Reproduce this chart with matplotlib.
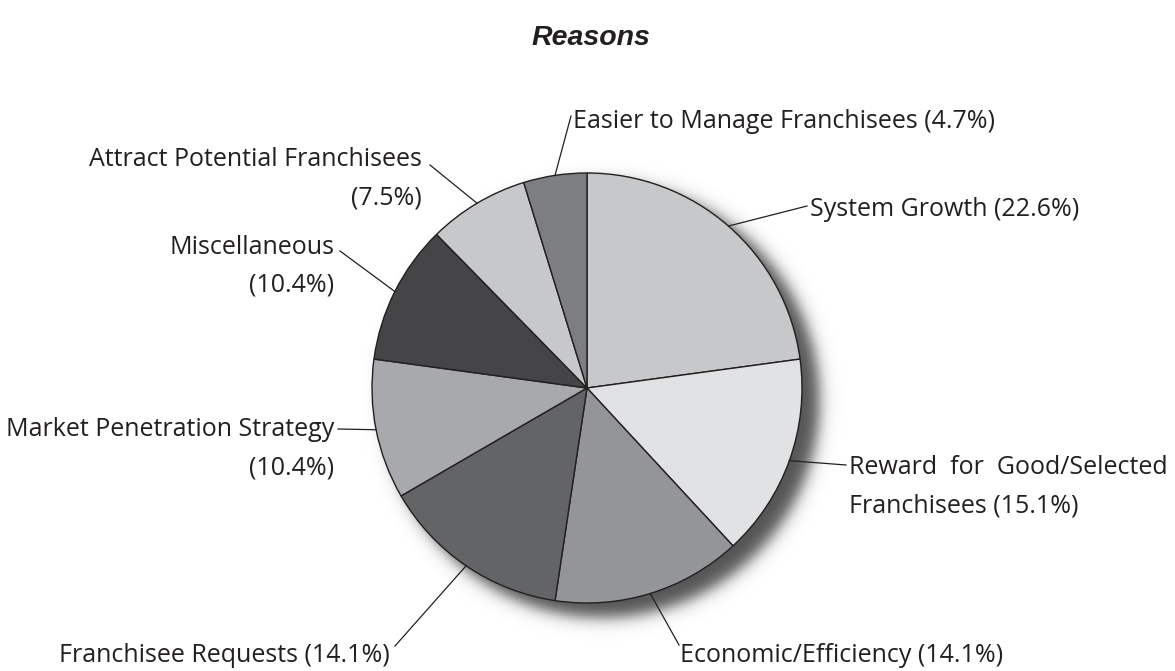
import numpy as np
import matplotlib.pyplot as plt

W, H = 1175, 671

labels = ["System Growth", "Reward  for  Good/Selected", "Economic/Efficiency",
          "Franchisee Requests", "Market Penetration Strategy", "Miscellaneous",
          "Attract Potential Franchisees", "Easier to Manage Franchisees"]
values = [22.6, 15.1, 14.1, 14.1, 10.4, 10.4, 7.5, 4.7]
colors = ["#c7c8ca", "#e1e2e3", "#939598", "#636466", "#a7a9ac", "#454547", "#c7c8ca", "#7d7e82"]

# label layout in pixels (top-left origin): text x, text y, ha, leader end, mode
# mode: "one" = single line, "split" = percent on second line, "reward" = special break
layout = [
    (810, 210, "left", (807, 206), "one"),
    (849, 468, "left", (846, 465), "reward"),
    (680, 655, "left", (679, 645), "one"),
    (390, 655, "right", (395, 646), "one"),
    (334, 430, "right", (338, 429), "split"),
    (334, 247, "right", (340, 251), "split"),
    (422, 160, "right", (430, 165), "split"),
    (573, 121, "left", (571, 116), "one"),
]

cx, cy, R = 587, 388, 215
txtc = "#231f20"
font = "Open Sans"
fs = 18
gap = 38

fig = plt.figure(figsize=(W / 100, H / 100), dpi=100)
ax = fig.add_axes([0, 0, 1, 1])

# soft drop shadow
xs = np.arange(340, 900)
ys = np.arange(150, 670)
X, Y = np.meshgrid(xs, ys)
d = np.hypot(X - (cx + 15), Y - (cy + 12))
alpha = 0.92 * 0.5 * (1 - np.tanh((d - R - 2) / 9.0))
img = np.zeros((len(ys), len(xs), 4))
img[..., 0] = img[..., 1] = img[..., 2] = 0.27
img[..., 3] = alpha
ax.imshow(img, extent=(xs[0], xs[-1] + 1, H - ys[-1] - 1, H - ys[0]), origin="upper",
          zorder=1, interpolation="bilinear")

wedges, _ = ax.pie(values, colors=colors, startangle=90, counterclock=False,
                   center=(cx, H - cy), radius=R, frame=True,
                   wedgeprops=dict(edgecolor=txtc, linewidth=1.0))
for w in wedges:
    w.set_zorder(2)
ax.set_xlim(0, W)
ax.set_ylim(0, H)
ax.set_aspect("equal")
ax.axis("off")

for w, lab, v, (tx, ty, ha, (ex, ey), mode) in zip(wedges, labels, values, layout):
    ang = np.deg2rad((w.theta1 + w.theta2) / 2)
    sx = cx + R * np.cos(ang)
    sy = H - cy + R * np.sin(ang)
    ax.plot([sx, ex], [sy, H - ey], color=txtc, lw=0.9, zorder=3)
    pct = f"({v}%)"
    if mode == "one":
        lines = [f"{lab} {pct}"]
    elif mode == "split":
        lines = [lab, pct]
    else:
        lines = [lab, f"Franchisees {pct}"]
    for i, ln in enumerate(lines):
        ax.text(tx, H - (ty + i * gap), ln, ha=ha, va="center",
                fontsize=fs, family=font, color=txtc)

ax.text(591, H - 38, "Reasons", ha="center", va="center", fontsize=20.5,
        family="Liberation Sans", weight="bold", style="italic", color=txtc)

fig.savefig("out.png", dpi=100)
